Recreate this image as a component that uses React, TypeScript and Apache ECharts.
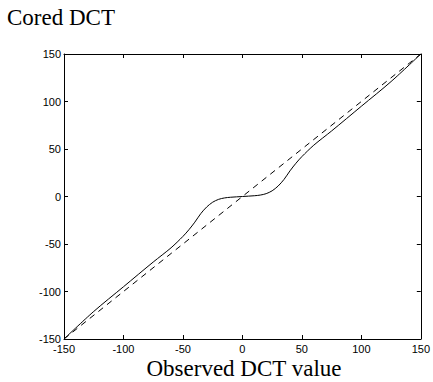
import React, { useEffect, useRef } from "react";
import * as echarts from "echarts";

const observed = [-150, -125, -100, -75, -60, -50, -45, -40, -35, -30, -25, -20, -15, -10, 0, 10, 15, 20, 25, 30, 35, 40, 45, 50, 60, 75, 100, 125, 150];
const cored = [-150, -121, -95, -69, -54, -42, -35, -27, -18, -11, -6, -3, -1.5, -0.8, 0, 0.8, 1.5, 3, 6, 11, 18, 27, 35, 42, 54, 69, 95, 121, 150];
const identityX = [-150, 150];
const identityY = [-150, 150];
const titleText = "Cored DCT";
const xLabelText = "Observed DCT value";

export default function App() {
  const ref = useRef<HTMLDivElement>(null);
  useEffect(() => {
    if (!ref.current) return;
    const chart = echarts.init(ref.current, null, { renderer: "svg" });
    const axisCommon = {
      type: "value",
      min: -150,
      max: 150,
      interval: 50,
      axisLine: { show: true, onZero: false, lineStyle: { color: "#000", width: 1 } },
      axisTick: { show: true, inside: true, length: 4, lineStyle: { color: "#000" } },
      splitLine: { show: false },
    };
    const labelStyle = { color: "#000", fontFamily: "Liberation Sans", fontSize: 11 };
    chart.setOption({
      animation: false,
      backgroundColor: "#fff",
      grid: { left: 64, top: 54, width: 360, height: 285, containLabel: false },
      xAxis: [
        { ...axisCommon, position: "bottom", axisLabel: { ...labelStyle, margin: 4 } },
        { ...axisCommon, position: "top", axisLabel: { show: false } },
      ],
      yAxis: [
        { ...axisCommon, position: "left", axisLabel: { ...labelStyle, margin: 3 } },
        { ...axisCommon, position: "right", axisLabel: { show: false } },
      ],
      graphic: [
        {
          type: "text",
          left: 7,
          top: 6,
          style: { text: titleText, font: "23px 'Liberation Serif'", fill: "#000" },
        },
        {
          type: "text",
          x: 244,
          y: 368,
          style: {
            text: xLabelText,
            font: "23px 'Liberation Serif'",
            fill: "#000",
            align: "center",
            verticalAlign: "middle",
          },
        },
      ],
      series: [
        {
          type: "line",
          data: identityX.map((x, i) => [x, identityY[i]]),
          showSymbol: false,
          lineStyle: { color: "#000", width: 1, type: [6, 5] },
        },
        {
          type: "line",
          data: observed.map((x, i) => [x, cored[i]]),
          showSymbol: false,
          smooth: 0.3,
          lineStyle: { color: "#000", width: 1 },
        },
      ],
    });
    return () => chart.dispose();
  }, []);
  return (
    <div
      ref={ref}
      style={{ position: "fixed", left: 0, top: 0, width: 433, height: 382, background: "#fff" }}
    />
  );
}
